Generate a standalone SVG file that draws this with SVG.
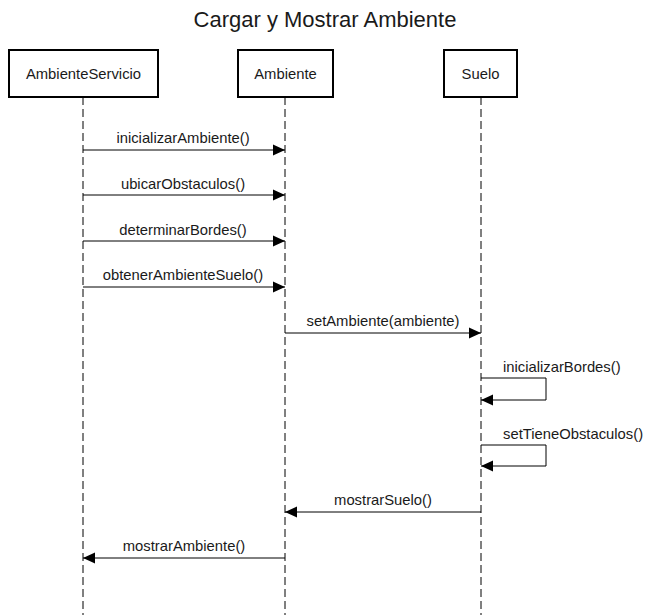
<svg xmlns="http://www.w3.org/2000/svg" width="649" height="615" viewBox="0 0 649 615">
<style>
.box{fill:#fff;stroke:#000;stroke-width:2}
.life{stroke:#000;stroke-width:1;stroke-dasharray:8 4;fill:none}
.msg{stroke:#000;stroke-width:1;fill:none}
text{font-family:"Liberation Sans",Arial,sans-serif;font-size:14.8px;fill:#1a1a1a}
.t{font-size:22px}
</style>
<defs>
<marker id="ah" viewBox="0 0 12 12" refX="12" refY="6" markerWidth="12" markerHeight="12" markerUnits="userSpaceOnUse" orient="auto">
<path d="M0,0.5 L12,6 L0,11.5 Z" fill="#000"/>
</marker>
</defs>
<rect width="649" height="615" fill="#fff"/>
<text class="t" x="325" y="27" text-anchor="middle">Cargar y Mostrar Ambiente</text>
<g id="lifelines">
<line class="life" x1="83" y1="97" x2="83" y2="615"/>
<line class="life" x1="285" y1="97" x2="285" y2="615"/>
<line class="life" x1="481" y1="97" x2="481" y2="615"/>
</g>
<g id="node-ambienteservicio">
<rect class="box" x="9" y="50" width="149" height="47"/>
<text x="83.5" y="79" text-anchor="middle">AmbienteServicio</text>
</g>
<g id="node-ambiente">
<rect class="box" x="238" y="50" width="95" height="47"/>
<text x="285.5" y="79" text-anchor="middle">Ambiente</text>
</g>
<g id="node-suelo">
<rect class="box" x="444" y="50" width="73" height="47"/>
<text x="480.5" y="79" text-anchor="middle">Suelo</text>
</g>
<g id="connectors">
<line class="msg" x1="83" y1="150" x2="285" y2="150" marker-end="url(#ah)"/>
<text x="183" y="143" text-anchor="middle">inicializarAmbiente()</text>
<line class="msg" x1="83" y1="195" x2="285" y2="195" marker-end="url(#ah)"/>
<text x="183" y="189" text-anchor="middle">ubicarObstaculos()</text>
<line class="msg" x1="83" y1="241" x2="285" y2="241" marker-end="url(#ah)"/>
<text x="183" y="235" text-anchor="middle">determinarBordes()</text>
<line class="msg" x1="83" y1="287" x2="285" y2="287" marker-end="url(#ah)"/>
<text x="183" y="280" text-anchor="middle">obtenerAmbienteSuelo()</text>
<line class="msg" x1="285" y1="333" x2="481" y2="333" marker-end="url(#ah)"/>
<text x="383" y="326" text-anchor="middle">setAmbiente(ambiente)</text>
<path class="msg" d="M481,378 H546 V400 H481" marker-end="url(#ah)"/>
<text x="503" y="372">inicializarBordes()</text>
<path class="msg" d="M481,445 H546 V466 H481" marker-end="url(#ah)"/>
<text x="503" y="439">setTieneObstaculos()</text>
<line class="msg" x1="481" y1="512" x2="285" y2="512" marker-end="url(#ah)"/>
<text x="383" y="505" text-anchor="middle">mostrarSuelo()</text>
<line class="msg" x1="285" y1="558" x2="83" y2="558" marker-end="url(#ah)"/>
<text x="184" y="551" text-anchor="middle">mostrarAmbiente()</text>
</g>
</svg>
